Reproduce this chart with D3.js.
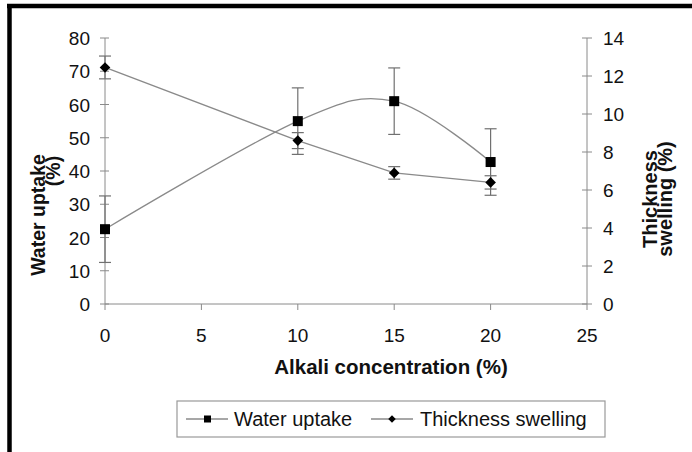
<!DOCTYPE html>
<html><head><meta charset="utf-8">
<script src="https://cdn.jsdelivr.net/npm/d3@7"></script>
<style>body{margin:0;background:#fff}svg{display:block}text{font-family:"Liberation Sans",Arial,sans-serif}</style>
</head><body><svg id="c" width="692" height="452"></svg>
<script>
const categories = [0, 10, 15, 20];
const waterUptake = [22.5, 55, 61, 42.7];
const waterErr = [10, 10, 10, 10];
const thickness = [12.45, 8.6, 6.9, 6.4];
const thickErr = [0.6, 0.42, 0.33, 0.35];
const xTicks = [0, 5, 10, 15, 20, 25];
const leftTicks = [0, 10, 20, 30, 40, 50, 60, 70, 80];
const rightTicks = [0, 2, 4, 6, 8, 10, 12, 14];
const seriesNames = ["Water uptake", "Thickness swelling"];
const xTitle = "Alkali concentration (%)";

const svg = d3.select("#c");
const x = d3.scaleLinear().domain([0, 25]).range([105, 587]);
const yL = d3.scaleLinear().domain([0, 80]).range([304, 38]);
const yR = d3.scaleLinear().domain([0, 14]).range([304, 38]);
const gray = "#8a8a8a";

// frame
svg.append("line").attr("x1", 7).attr("x2", 692).attr("y1", 6).attr("y2", 6).attr("stroke", "#000").attr("stroke-width", 4.5);
svg.append("line").attr("x1", 9.5).attr("x2", 9.5).attr("y1", 4).attr("y2", 452).attr("stroke", "#000").attr("stroke-width", 4.5);

// axes
const axL = svg.append("g").attr("transform", "translate(105,0)");
axL.append("line").attr("y1", yL(0)).attr("y2", yL(80)).attr("stroke", gray);
axL.selectAll("line.t").data(leftTicks).join("line").attr("class", "t")
  .attr("x1", -5).attr("x2", 4).attr("y1", d => yL(d)).attr("y2", d => yL(d)).attr("stroke", gray);
axL.selectAll("text").data(leftTicks).join("text")
  .attr("x", -15).attr("y", d => yL(d) + 7).attr("text-anchor", "end")
  .attr("font-size", 19).attr("fill", "#111").text(d => d);

const axR = svg.append("g").attr("transform", "translate(587,0)");
axR.append("line").attr("y1", yR(0)).attr("y2", yR(14)).attr("stroke", gray);
axR.selectAll("line.t").data(rightTicks).join("line").attr("class", "t")
  .attr("x1", -5).attr("x2", 5).attr("y1", d => yR(d)).attr("y2", d => yR(d)).attr("stroke", gray);
axR.selectAll("text").data(rightTicks).join("text")
  .attr("x", 16).attr("y", d => yR(d) + 7).attr("text-anchor", "start")
  .attr("font-size", 19).attr("fill", "#111").text(d => d);

const axX = svg.append("g");
axX.append("line").attr("x1", x(0)).attr("x2", x(25)).attr("y1", 304).attr("y2", 304).attr("stroke", gray);
axX.selectAll("line.t").data(xTicks).join("line").attr("class", "t")
  .attr("x1", d => x(d)).attr("x2", d => x(d)).attr("y1", 304).attr("y2", 310).attr("stroke", gray);
axX.selectAll("text").data(xTicks).join("text")
  .attr("x", d => x(d)).attr("y", 341.5).attr("text-anchor", "middle")
  .attr("font-size", 19).attr("fill", "#111").text(d => d);

// titles
svg.append("text").attr("x", 391).attr("y", 374).attr("text-anchor", "middle")
  .attr("font-size", 20.5).attr("font-weight", "bold").attr("fill", "#111").text(xTitle);
svg.append("text").attr("transform", "translate(45,215) rotate(-90)").attr("text-anchor", "middle")
  .attr("font-size", 19.5).attr("font-weight", "bold").attr("fill", "#111").text("Water uptake");
svg.append("text").attr("transform", "translate(60,171) rotate(-90)").attr("text-anchor", "middle")
  .attr("font-size", 19.5).attr("font-weight", "bold").attr("fill", "#111").text("(%)");
svg.append("text").attr("transform", "translate(657,199) rotate(-90)").attr("text-anchor", "middle")
  .attr("font-size", 20).attr("font-weight", "bold").attr("fill", "#111").text("Thickness");
svg.append("text").attr("transform", "translate(672,199) rotate(-90)").attr("text-anchor", "middle")
  .attr("font-size", 20).attr("font-weight", "bold").attr("fill", "#111").text("swelling (%)");

// data
const wData = categories.map((c, i) => ({x: c, y: waterUptake[i], e: waterErr[i]}));
const tData = categories.map((c, i) => ({x: c, y: thickness[i], e: thickErr[i]}));

svg.append("path").datum(wData).attr("fill", "none").attr("stroke", gray).attr("stroke-width", 1.3)
  .attr("d", d3.line().x(d => x(d.x)).y(d => yL(d.y)).curve(d3.curveCardinal.tension(0)));
svg.append("path").datum(tData).attr("fill", "none").attr("stroke", gray).attr("stroke-width", 1.3)
  .attr("d", d3.line().x(d => x(d.x)).y(d => yR(d.y)));

function errBars(data, ys) {
  const g = svg.append("g").attr("stroke", "#707070").attr("stroke-width", 1.2);
  data.forEach(d => {
    const cx = x(d.x), y1 = ys(d.y + d.e), y2 = ys(d.y - d.e);
    g.append("line").attr("x1", cx).attr("x2", cx).attr("y1", y1).attr("y2", y2);
    g.append("line").attr("x1", cx - 6).attr("x2", cx + 6).attr("y1", y1).attr("y2", y1);
    g.append("line").attr("x1", cx - 6).attr("x2", cx + 6).attr("y1", y2).attr("y2", y2);
  });
}
errBars(wData, yL);
errBars(tData, yR);

svg.selectAll("rect.m").data(wData).join("rect").attr("class", "m")
  .attr("x", d => x(d.x) - 5).attr("y", d => yL(d.y) - 5).attr("width", 10).attr("height", 10).attr("fill", "#000");
const diamond = d3.symbol().type(d3.symbolDiamond2).size(72);
svg.selectAll("path.m").data(tData).join("path").attr("class", "m")
  .attr("transform", d => `translate(${x(d.x)},${yR(d.y)})`).attr("d", diamond).attr("fill", "#000");

// legend
const lg = svg.append("g");
lg.append("rect").attr("x", 177).attr("y", 401).attr("width", 428).attr("height", 36)
  .attr("fill", "#fff").attr("stroke", "#999").attr("stroke-width", 1.2);
lg.append("line").attr("x1", 186).attr("x2", 228).attr("y1", 419).attr("y2", 419).attr("stroke", gray).attr("stroke-width", 1.3);
lg.append("rect").attr("x", 204).attr("y", 415.5).attr("width", 7).attr("height", 7).attr("fill", "#000");
lg.append("text").attr("x", 234).attr("y", 426).attr("font-size", 20).attr("fill", "#111").text(seriesNames[0]);
lg.append("line").attr("x1", 371).attr("x2", 413).attr("y1", 419).attr("y2", 419).attr("stroke", gray).attr("stroke-width", 1.3);
lg.append("path").attr("transform", "translate(392,419)").attr("d", d3.symbol().type(d3.symbolDiamond2).size(36)).attr("fill", "#000");
lg.append("text").attr("x", 420).attr("y", 426).attr("font-size", 20).attr("fill", "#111").text(seriesNames[1]);
</script></body></html>
